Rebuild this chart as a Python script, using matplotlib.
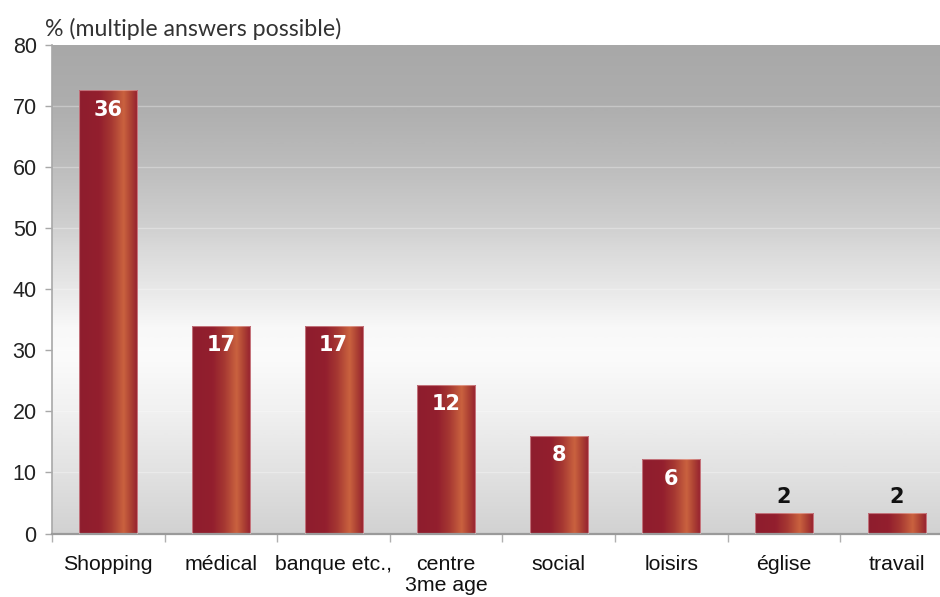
import numpy as np
import matplotlib
matplotlib.use("Agg")
import matplotlib.pyplot as plt
from matplotlib.colors import LinearSegmentedColormap

# ---- data ----
categories = ["Shopping", "médical", "banque etc.,", "centre\n3me age", "social", "loisirs", "église", "travail"]
percent = [72.6, 34.0, 34.0, 24.4, 16.0, 12.2, 3.3, 3.3]
counts = [36, 17, 17, 12, 8, 6, 2, 2]
yticks = [0, 10, 20, 30, 40, 50, 60, 70, 80]
title_text = "% (multiple answers possible)"

W, H = 940, 597
fig = plt.figure(figsize=(W / 100, H / 100), dpi=100)
fig.patch.set_facecolor("white")

left_px, right_px, top_px, bot_px = 52, 953, 45, 533.5
ax = fig.add_axes([left_px / W, 1 - bot_px / H, (right_px - left_px) / W, (bot_px - top_px) / H])
n = len(categories)
ax.set_xlim(-0.5, n - 0.5)
ax.set_ylim(0, 80)

# background vertical gradient
bg_stops = [(0.0, "#d2d2d2"), (0.125, "#e2e2e2"), (0.25, "#f1f1f1"), (0.36, "#fbfbfb"),
             (0.42, "#f8f8f8"), (0.5, "#e8e8e8"), (0.58, "#dadada"), (0.625, "#d0d0d0"),
             (0.75, "#bdbdbd"), (0.875, "#aeaeae"), (1.0, "#a8a8a8")]
bg_cmap = LinearSegmentedColormap.from_list("bg", bg_stops)
grad = np.linspace(0, 1, 400).reshape(-1, 1)
ax.imshow(grad, cmap=bg_cmap, aspect="auto", origin="lower",
          extent=[-0.5, n - 0.5, 0, 80], zorder=0, interpolation="bilinear")

# gridlines
for yv in yticks[1:-1]:
    ax.axhline(yv, color="white", alpha=0.3, lw=1.0, zorder=1)

# bars with horizontal gradient
bar_stops = [(0.0, "#8e1d2d"), (0.35, "#931f2e"), (0.55, "#a63832"), (0.76, "#ca623f"),
             (0.88, "#ad4234"), (1.0, "#951f2f")]
bar_cmap = LinearSegmentedColormap.from_list("bar", bar_stops)
hgrad = np.linspace(0, 1, 200).reshape(1, -1)
x = np.arange(n)
width = 0.515
bars = ax.bar(x, percent, width=width, facecolor="none",
              edgecolor=(1, 0.85, 0.85, 0.45), linewidth=0.8, zorder=3)
for b in bars:
    bx, by = b.get_x(), b.get_y()
    bw, bh = b.get_width(), b.get_height()
    im = ax.imshow(hgrad, cmap=bar_cmap, aspect="auto",
                   extent=[bx, bx + bw, by, by + bh], zorder=2, interpolation="bilinear")
    im.set_clip_path(b)

# value labels
for xi, p, c in zip(x, percent, counts):
    if p > 8:
        ax.text(xi, p - 3.2, str(c), ha="center", va="center", color="white",
                fontsize=15, fontweight="bold", family="DejaVu Sans", zorder=5)
    else:
        ax.text(xi, p + 1.1, str(c), ha="center", va="bottom", color="#111111",
                fontsize=15, fontweight="bold", family="DejaVu Sans", zorder=5)

# spines
for s in ["top", "right"]:
    ax.spines[s].set_visible(False)
ax.spines["left"].set_color("#a8a8a8")
ax.spines["bottom"].set_color("#9a9a9a")
ax.spines["left"].set_linewidth(1.2)
ax.spines["bottom"].set_linewidth(1.6)

# y ticks
ax.set_yticks(yticks)
ax.set_yticklabels([str(v) for v in yticks], fontsize=15.5, family="Liberation Sans", color="#222222")
ax.tick_params(axis="y", length=5, width=1, color="#a8a8a8", pad=6)

# x ticks: boundaries as major, labels at centers as minor
ax.set_xticks(np.arange(n + 1) - 0.5)
ax.set_xticklabels([])
ax.tick_params(axis="x", which="major", length=6, width=1, color="#b0b0b0")
ax.set_xticks(x, minor=True)
ax.set_xticklabels(categories, minor=True, fontsize=15.3, family="Liberation Sans",
                   color="#111111", linespacing=1.12, va="top")
ax.tick_params(axis="x", which="minor", length=0, pad=15.5)

fig.text(45 / W, 1 - 36 / H, title_text, fontsize=16.7, family="Lato", color="#333333",
         ha="left", va="baseline")

fig.savefig("out.png", dpi=100)
